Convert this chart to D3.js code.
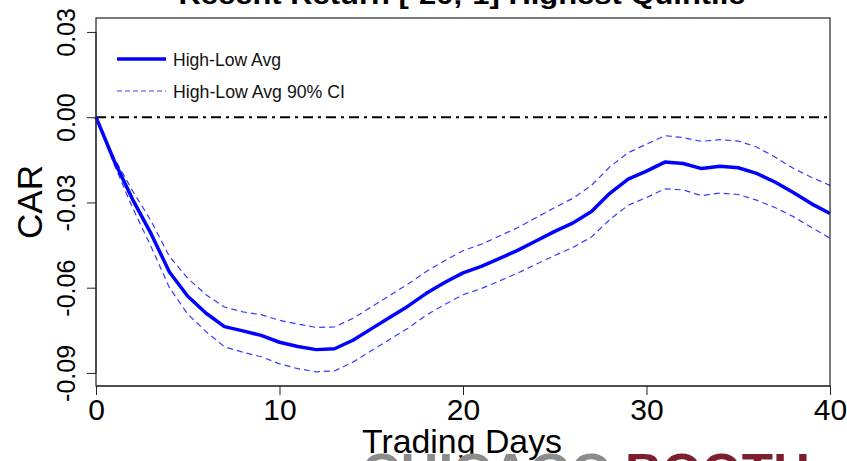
<!DOCTYPE html>
<html>
<head>
<meta charset="utf-8">
<script src="https://cdnjs.cloudflare.com/ajax/libs/d3/7.8.5/d3.min.js"></script>
<style>
  body { margin: 0; background: #fff; }
  svg { display: block; font-family: "Liberation Sans", Arial, sans-serif; }
</style>
</head>
<body>
<svg id="chart" width="847" height="461"></svg>
<script>
// trading days after the event
var days = d3.range(0, 41);

// High-Low average CAR
var avgCar = [0, -0.0155, -0.029, -0.041, -0.0545, -0.063, -0.069, -0.0737, -0.0752, -0.0768,
  -0.0792, -0.0807, -0.0818, -0.0815, -0.0785, -0.0745, -0.0705, -0.0665, -0.062, -0.0582,
  -0.0548, -0.0525, -0.0497, -0.0468, -0.0435, -0.0402, -0.0372, -0.0332, -0.0268, -0.0218,
  -0.019, -0.0158, -0.0163, -0.0181, -0.0173, -0.0178, -0.0198, -0.0228, -0.0265, -0.0305,
  -0.0339];

// 90% CI bounds
var ciUpper = [0, -0.0145, -0.026, -0.0365, -0.049, -0.0567, -0.0625, -0.0668, -0.0685, -0.0695,
  -0.0715, -0.0728, -0.074, -0.0738, -0.0708, -0.0668, -0.0628, -0.0587, -0.0543, -0.0505,
  -0.047, -0.0447, -0.0418, -0.0388, -0.0353, -0.0318, -0.0285, -0.024, -0.0175, -0.0125,
  -0.0095, -0.0065, -0.0072, -0.0085, -0.0079, -0.0084, -0.0105, -0.014, -0.018, -0.0212,
  -0.024];

var ciLower = [0, -0.0168, -0.032, -0.0455, -0.06, -0.0693, -0.0755, -0.0808, -0.0827, -0.0843,
  -0.0868, -0.0885, -0.0896, -0.0893, -0.0862, -0.0822, -0.0782, -0.0743, -0.0697, -0.0659,
  -0.0625, -0.0603, -0.0576, -0.0548, -0.0517, -0.0487, -0.0458, -0.0422, -0.036, -0.031,
  -0.0283, -0.0252, -0.0256, -0.0276, -0.0267, -0.0272, -0.0292, -0.0318, -0.035, -0.0388,
  -0.0426];

var xTicks = [0, 10, 20, 30, 40];
var yTicks = [-0.09, -0.06, -0.03, 0, 0.03];
var yTickLabels = ["-0.09", "-0.06", "-0.03", "0.00", "0.03"];
var legendLabels = ["High-Low Avg", "High-Low Avg 90% CI"];

var svg = d3.select("#chart");

var plotL = 96, plotR = 830, plotT = 18, plotB = 386;

var x = d3.scaleLinear().domain([0, 40]).range([plotL, plotR]);
var y = d3.scaleLinear().domain([-0.0946, 0.0349]).range([plotB, plotT]);

// title, mostly cut off at the top edge
svg.append("text")
  .attr("x", 462).attr("y", 4)
  .attr("text-anchor", "middle")
  .attr("font-weight", "bold")
  .attr("font-size", 26)
  .attr("textLength", 567)
  .attr("lengthAdjust", "spacingAndGlyphs")
  .text("Recent Return [-20,-1] Highest Quintile");

// zero reference line (dot-dash)
svg.append("line")
  .attr("x1", plotL).attr("x2", plotR)
  .attr("y1", y(0)).attr("y2", y(0))
  .style("stroke", "#000")
  .style("stroke-width", 2)
  .style("stroke-dasharray", "10,5,3,5");

var line = d3.line()
  .x(function (d, i) { return x(days[i]); })
  .y(function (d) { return y(d); });

[ciUpper, ciLower].forEach(function (s) {
  svg.append("path")
    .attr("d", line(s))
    .style("fill", "none")
    .style("stroke", "#3a3aff")
    .style("stroke-width", 1.2)
    .style("stroke-dasharray", "6,4");
});

svg.append("path")
  .attr("d", line(avgCar))
  .style("fill", "none")
  .style("stroke", "#0000ff")
  .style("stroke-width", 3.5)
  .style("stroke-linejoin", "round");

// plot box
svg.append("rect")
  .attr("x", plotL).attr("y", plotT)
  .attr("width", plotR - plotL).attr("height", plotB - plotT)
  .style("fill", "none")
  .style("stroke", "#222")
  .style("stroke-width", 1.2);

// x axis
var xAxis = svg.append("g")
  .attr("transform", "translate(0," + plotB + ")")
  .call(d3.axisBottom(x).tickValues(xTicks).tickSize(9).tickSizeOuter(0).tickFormat(d3.format("d")));
xAxis.select(".domain").attr("d", "M" + x(0) + ",0H" + x(40)).style("stroke", "#222");
xAxis.selectAll(".tick line").style("stroke", "#222");
xAxis.selectAll(".tick text")
  .attr("y", 34).attr("dy", 0)
  .attr("font-size", 30)
  .attr("font-family", "Liberation Sans, Arial, sans-serif")
  .style("fill", "#000");

// y axis
var yAxis = svg.append("g")
  .attr("transform", "translate(" + plotL + ",0)")
  .call(d3.axisLeft(y).tickValues(yTicks).tickSize(9).tickSizeOuter(0)
    .tickFormat(function (d, i) { return yTickLabels[i]; }));
yAxis.select(".domain").attr("d", "M0," + y(0.03) + "V" + y(-0.09)).style("stroke", "#222");
yAxis.selectAll(".tick line").style("stroke", "#222");
yAxis.selectAll(".tick text")
  .attr("x", null).attr("dy", null)
  .attr("text-anchor", "middle")
  .attr("transform", "translate(-21,0) rotate(-90)")
  .attr("font-size", 25)
  .attr("font-family", "Liberation Sans, Arial, sans-serif")
  .style("fill", "#000");

// axis titles
svg.append("text")
  .attr("transform", "translate(42,202) rotate(-90)")
  .attr("text-anchor", "middle")
  .attr("font-size", 35)
  .text("CAR");

svg.append("text")
  .attr("x", 362).attr("y", 453)
  .attr("font-size", 33)
  .attr("textLength", 200)
  .attr("lengthAdjust", "spacingAndGlyphs")
  .text("Trading Days");

// legend
var legend = svg.append("g");
legendLabels.forEach(function (lab, i) {
  var ly = 59 + i * 32;
  legend.append("line")
    .attr("x1", 117).attr("x2", 166)
    .attr("y1", ly).attr("y2", ly)
    .style("stroke", i === 0 ? "#0000ff" : "#3a3aff")
    .style("stroke-width", i === 0 ? 3.5 : 1.2)
    .style("stroke-dasharray", i === 0 ? null : "5,3");
  legend.append("text")
    .attr("x", 173).attr("y", ly + 7)
    .attr("font-size", 17.5)
    .attr("textLength", i === 0 ? 108 : 172)
    .attr("lengthAdjust", "spacingAndGlyphs")
    .style("fill", "#111")
    .text(lab);
});

// watermark at the bottom edge
var wm = svg.append("g");
wm.append("text")
  .attr("x", 362).attr("y", 489)
  .attr("font-size", 50).attr("font-weight", "bold")
  .attr("textLength", 250).attr("lengthAdjust", "spacingAndGlyphs")
  .style("fill", "#8c8c8c")
  .text("CHICAGO");
wm.append("text")
  .attr("x", 625).attr("y", 489)
  .attr("font-size", 50).attr("font-weight", "bold")
  .attr("textLength", 185).attr("lengthAdjust", "spacingAndGlyphs")
  .style("fill", "#7b1e2e")
  .text("BOOTH");
</script>
</body>
</html>
